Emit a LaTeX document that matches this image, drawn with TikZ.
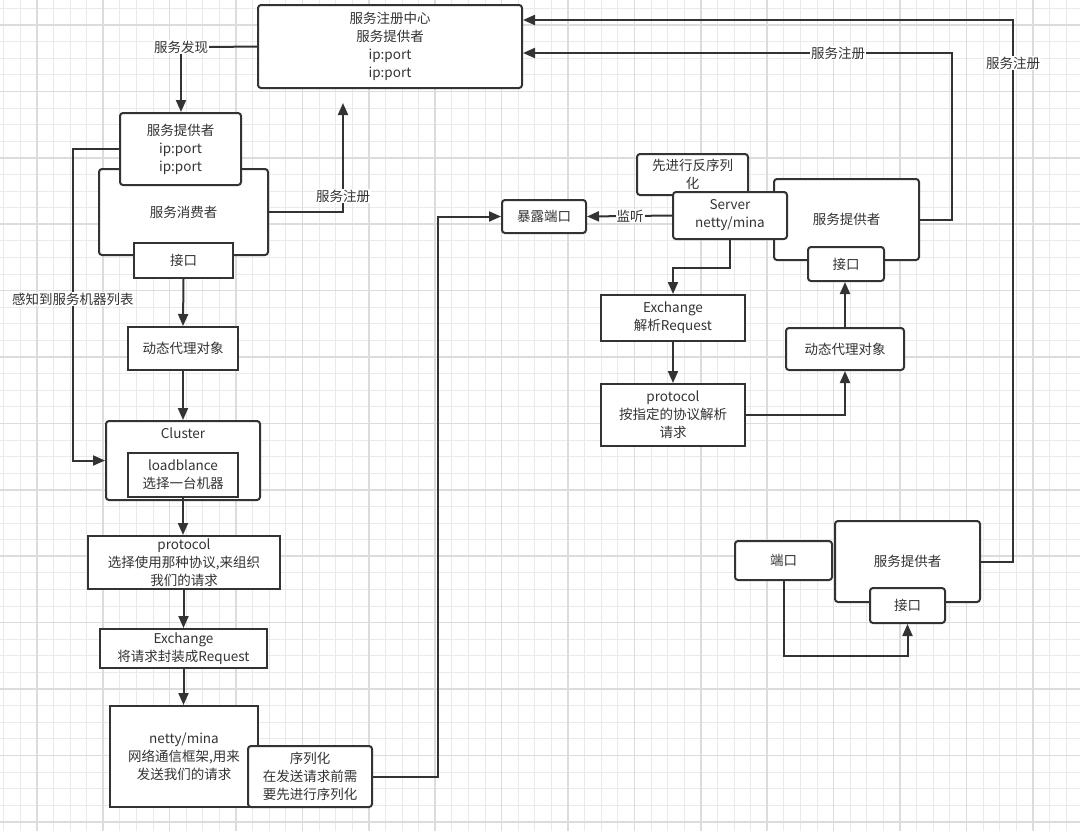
\documentclass[tikz,border=0pt]{standalone}
\usepackage{fontspec}
\setmainfont{Noto Sans CJK SC}
\usetikzlibrary{arrows.meta}
\definecolor{lc}{HTML}{333333}
\definecolor{tc}{HTML}{333333}
\definecolor{gminor}{HTML}{EAEAEA}
\definecolor{gmajor}{HTML}{DCDCDC}
\tikzset{
  box/.style={draw=lc, line width=2pt, fill=white, text=tc, align=center, inner sep=0pt,
    font=\fontsize{13.5}{18}\selectfont},
  rbox/.style={box, rounded corners=3pt},
  lbl/.style={fill=white, text=tc, inner sep=1pt, font=\fontsize{13.5}{18}\selectfont},
  ln/.style={draw=lc, line width=2pt},
  arr/.style={ln, -{Triangle[length=12pt,width=10pt]}},
}
\begin{document}
\begin{tikzpicture}[x=1pt,y=-1pt]
\useasboundingbox (0,0) rectangle (1080,831);
\fill[white] (0,0) rectangle (1080,831);
% grid
\foreach \i in {0,...,64} \draw[gminor, line width=1pt] ({3.6+16.6*\i},0) -- ({3.6+16.6*\i},831);
\foreach \i in {0,...,49} \draw[gminor, line width=1pt] (0,{8.4+16.6*\i}) -- (1080,{8.4+16.6*\i});
\foreach \i in {0,...,15} \draw[gmajor, line width=1.5pt] ({36.8+66.4*\i},0) -- ({36.8+66.4*\i},831);
\foreach \i in {0,...,12} \draw[gmajor, line width=1.5pt] (0,{25+66.4*\i}) -- (1080,{25+66.4*\i});

% ---------- left side ----------
\node[rbox, minimum width=264pt, minimum height=83pt] (reg) at (390,46.5) {服务注册中心\\服务提供者\\ip:port\\ip:port};
\node[rbox, minimum width=169pt, minimum height=86pt] (cons) at (183.5,212) {服务消费者};
\node[rbox, minimum width=121pt, minimum height=72pt] (prov1) at (180.5,149) {服务提供者\\ip:port\\ip:port};
\node[box, minimum width=99pt, minimum height=35pt] (jk1) at (183.5,260.5) {接口};
\node[box, minimum width=110pt, minimum height=43pt] (dt1) at (183,348.5) {动态代理对象};
\node[rbox, minimum width=154pt, minimum height=79pt] (cl) at (183,460.5) {};
\node[text=tc, font=\fontsize{13.5}{18}\selectfont, inner sep=0pt] (cltxt) at (183,433) {Cluster};
\node[box, minimum width=110pt, minimum height=44pt] (lb) at (183,475) {loadblance\\选择一台机器};
\node[box, minimum width=192pt, minimum height=53pt] (pr1) at (184,562.5) {protocol\\选择使用那种协议,来组织\\我们的请求};
\node[box, minimum width=167pt, minimum height=39pt] (ex1) at (183.5,648.5) {Exchange\\将请求封装成Request};
\node[box, minimum width=148pt, minimum height=101pt] (nm) at (184,756.5) {netty/mina\\网络通信框架,用来\\发送我们的请求};
\node[rbox, minimum width=124pt, minimum height=61pt] (sr) at (310,776.5) {序列化\\在发送请求前需\\要先进行序列化};

% ---------- right side ----------
\node[rbox, minimum width=84pt, minimum height=33pt] (bl) at (544,216.5) {暴露端口};
\node[rbox, minimum width=111pt, minimum height=41pt] (dsr) at (692.5,174.5) {先进行反序列\\化};
\node[rbox, minimum width=145pt, minimum height=81pt] (prov2) at (846.5,219.5) {服务提供者};
\node[rbox, minimum width=114pt, minimum height=47pt] (srv) at (730,215.5) {Server\\netty/mina};
\node[rbox, minimum width=76pt, minimum height=34pt] (jk2) at (846,264) {接口};
\node[box, minimum width=144pt, minimum height=46pt] (ex2) at (673,318) {Exchange\\解析Request};
\node[box, minimum width=144pt, minimum height=62pt] (pr2) at (673,415) {protocol\\按指定的协议解析\\请求};
\node[rbox, minimum width=118pt, minimum height=42pt] (dt2) at (845,349) {动态代理对象};
\node[rbox, minimum width=145pt, minimum height=81pt] (prov3) at (907.5,561.5) {服务提供者};
\node[rbox, minimum width=97pt, minimum height=39pt] (dk) at (783.5,560.5) {端口};
\node[rbox, minimum width=75pt, minimum height=35pt] (jk3) at (907.5,605.5) {接口};

% coordinates
\coordinate (c1) at (343,103);
\coordinate (k1) at (73,149);
\coordinate (c2) at (438,400);
\coordinate (c3) at (952,53);
\coordinate (c5) at (700,268);
\coordinate (c6) at (1013,20);
\coordinate (c7) at (850,656);

% labels (positions)
\node[lbl] (fx) at (181,47) {服务发现};
\node[lbl] (zl) at (343,196) {服务注册};

% ---------- connectors ----------
\draw[ln] (reg.west) -- (fx.east);
\draw[arr] (fx.south) -- (fx.south |- prov1.north);
\draw[ln] (cons.east) -| (zl.south);
\draw[arr] (zl.north) -- (c1);
\draw[arr] (prov1.west) -- (k1) |- (cl.west);
\draw[arr] (jk1.south) -- (dt1.north);
\draw[arr] (dt1.south) -- (cl.north);
\draw[arr] (lb.south) -- (lb.south |- pr1.north);
\draw[arr] (pr1.south -| ex1.north) -- (ex1.north);
\draw[arr] (ex1.south) -- (ex1.south |- nm.north);
\draw[arr] (sr.east) -| (c2) |- (bl.west);
\draw[arr] (srv.west) -- (bl.east);
\draw[arr] (prov2.east) -| (c3) -- (reg.east |- c3);
\draw[arr] (srv.south) |- (c5) -| (ex2.north);
\draw[arr] (ex2.south) -- (pr2.north);
\draw[arr] (pr2.east) -| (dt2.south);
\draw[arr] (dt2.north) -- (dt2.north |- jk2.south);
\draw[arr] (prov3.east) -| (c6) -- (reg.east |- c6);
\draw[arr] (dk.south) |- (c7) -| (jk3.south);

% line labels
\node[lbl] (gz) at (73,299) {感知到服务机器列表};
\node[lbl] (jt) at (630,216) {监听};
\node[lbl] (zl2) at (838,53) {服务注册};
\node[lbl] (zl3) at (1013,63) {服务注册};
\end{tikzpicture}
\end{document}
